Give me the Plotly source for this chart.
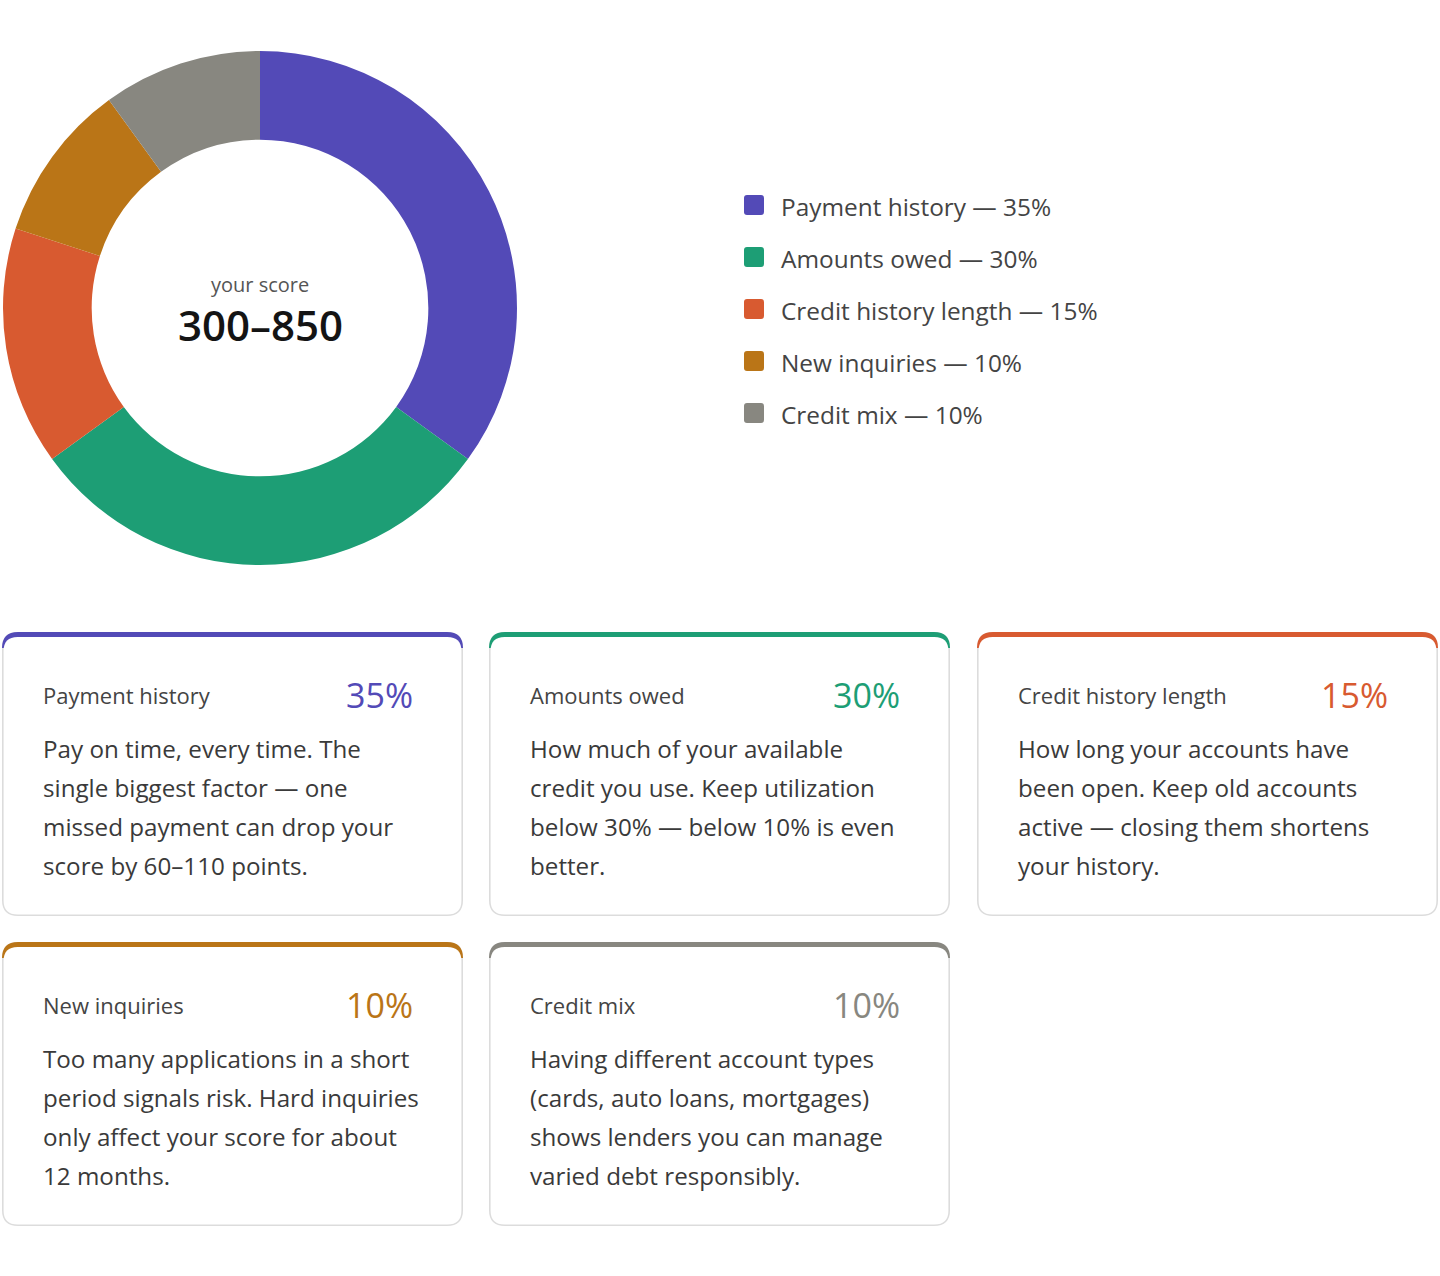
import plotly.graph_objects as go

W, H = 1440, 1276
FONT = "Open Sans"

# ---- data ----
factors = ["Payment history", "Amounts owed", "Credit history length", "New inquiries", "Credit mix"]
weights = [35, 30, 15, 10, 10]
colors = ["#534AB7", "#1D9E75", "#D85A30", "#BA7517", "#888780"]
descriptions = [
    ["Pay on time, every time. The", "single biggest factor — one",
     "missed payment can drop your", "score by 60–110 points."],
    ["How much of your available", "credit you use. Keep utilization",
     "below 30% — below 10% is even", "better."],
    ["How long your accounts have", "been open. Keep old accounts",
     "active — closing them shortens", "your history."],
    ["Too many applications in a short", "period signals risk. Hard inquiries",
     "only affect your score for about", "12 months."],
    ["Having different account types", "(cards, auto loans, mortgages)",
     "shows lenders you can manage", "varied debt responsibly."],
]
center_small = "your score"
center_big = "300–850"

fig = go.Figure()

# donut
cx, cy, R = 260, 308, 257
fig.add_trace(go.Pie(
    labels=factors, values=weights, sort=False, direction="clockwise", rotation=0,
    hole=0.655, marker=dict(colors=colors, line=dict(width=0)),
    textinfo="none", hoverinfo="label+percent", showlegend=False,
    domain=dict(x=[(cx - R) / W, (cx + R) / W], y=[1 - (cy + R) / H, 1 - (cy - R) / H]),
))

# invisible pixel axes for shapes / annotations
fig.add_trace(go.Scatter(x=[0, W], y=[0, H], mode="markers", marker=dict(opacity=0),
                         hoverinfo="skip", showlegend=False))


def rrect(x0, y0, x1, y1, r):
    return (f"M{x0+r},{y0} L{x1-r},{y0} Q{x1},{y0} {x1},{y0+r} L{x1},{y1-r} "
            f"Q{x1},{y1} {x1-r},{y1} L{x0+r},{y1} Q{x0},{y1} {x0},{y1-r} "
            f"L{x0},{y0+r} Q{x0},{y0} {x0+r},{y0} Z")


shapes = []
annotations = []

# center text
annotations.append(dict(x=cx, y=284, text=center_small, showarrow=False, xref="x", yref="y",
                        font=dict(family=FONT, size=20, color="#555555"), yanchor="middle"))
annotations.append(dict(x=cx, y=324, text=center_big, showarrow=False, xref="x", yref="y",
                        font=dict(family=FONT, size=42, color="#141414", weight=600), yanchor="middle"))

# legend
for i, (lab, w, c) in enumerate(zip(factors, weights, colors)):
    yc = 205 + 52 * i
    shapes.append(dict(type="path", xref="x", yref="y", path=rrect(744, yc - 10, 764, yc + 10, 3),
                       fillcolor=c, line=dict(width=0)))
    annotations.append(dict(x=779, y=yc + 1, text=f"{lab} — {w}%", showarrow=False, xref="x", yref="y",
                            xanchor="left", yanchor="middle",
                            font=dict(family=FONT, size=24.4, color="#444444")))

# cards
col_x = [2, 489, 977]
row_y = [632, 942]
cw, ch = 461, 284
for i in range(len(factors)):
    x0 = col_x[i % 3]
    y0 = row_y[i // 3]
    x1, y1 = x0 + cw, y0 + ch
    c = colors[i]
    shapes.append(dict(type="path", xref="x", yref="y", path=rrect(x0, y0, x1, y1, 16),
                       fillcolor="#dcdcdc", line=dict(width=0), layer="below"))
    shapes.append(dict(type="path", xref="x", yref="y",
                       path=f"M{x0},{y0+16} Q{x0},{y0} {x0+16},{y0} L{x1-16},{y0} Q{x1},{y0} {x1},{y0+16} Z",
                       fillcolor=c, line=dict(width=0), layer="below"))
    shapes.append(dict(type="path", xref="x", yref="y", path=rrect(x0 + 1.6, y0 + 5, x1 - 1.6, y1 - 1.6, 14),
                       fillcolor="#ffffff", line=dict(width=0), layer="below"))
    annotations.append(dict(x=x0 + 39, y=y0 + 62.5, text=factors[i], showarrow=False, xref="x", yref="y",
                            xanchor="left", yanchor="middle",
                            font=dict(family=FONT, size=22, color="#444444")))
    annotations.append(dict(x=x0 + 413, y=y0 + 63, text=f"{weights[i]}%", showarrow=False, xref="x", yref="y",
                            xanchor="right", yanchor="middle",
                            font=dict(family=FONT, size=34, color=c)))
    for j, line in enumerate(descriptions[i]):
        annotations.append(dict(x=x0 + 39, y=y0 + 116 + 39 * j, text=line, showarrow=False, xref="x", yref="y",
                                xanchor="left", yanchor="middle",
                                font=dict(family=FONT, size=24.2, color="#3a3a3a")))

fig.update_layout(
    width=W, height=H, margin=dict(l=0, r=0, t=0, b=0),
    paper_bgcolor="#ffffff", plot_bgcolor="#ffffff",
    xaxis=dict(range=[0, W], visible=False, domain=[0, 1], fixedrange=True),
    yaxis=dict(range=[H, 0], visible=False, domain=[0, 1], fixedrange=True),
    shapes=shapes, annotations=annotations, showlegend=False,
)

fig.write_html("out.html")
